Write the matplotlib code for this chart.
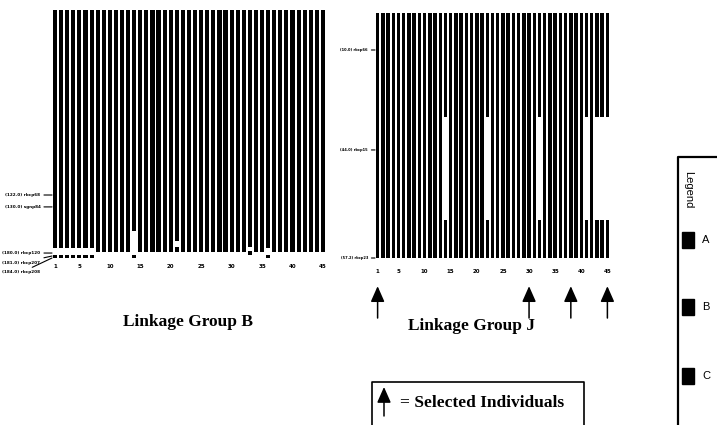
import matplotlib
matplotlib.use('Agg')
import matplotlib.pyplot as plt

# 45 individuals in each linkage group
n_ind = 45
tick_ind = [1, 5, 10, 15, 20, 25, 30, 35, 40, 45]
genotype_colors = {'A': 'black', 'B': 'black', 'C': 'black'}
legend_genotypes = ['A', 'B', 'C']
selected = [1, 30, 38, 45]

# positions run along the drawn chromosome: 0 = top, 100 = bottom
# Linkage group B
b_markers = ['(122.0) rbcp68', '(130.0) sgnp84', '(180.0) rbcp120',
             '(181.0) rbcp207', '(184.0) rbcp208']
b_marker_pos = [74.6, 79.4, 98.0, 99.2, 100.0]
b_default = [(0, 97.6, 'A')]
b_special = {
    1: [(0, 96.0, 'A'), (98.6, 100, 'B')],
    2: [(0, 96.0, 'A'), (98.6, 100, 'B')],
    3: [(0, 96.0, 'A'), (98.6, 100, 'B')],
    4: [(0, 96.0, 'A'), (98.6, 100, 'B')],
    5: [(0, 96.0, 'A'), (98.6, 100, 'B')],
    6: [(0, 96.0, 'A'), (98.6, 100, 'B')],
    7: [(0, 96.0, 'A'), (98.6, 100, 'B')],
    14: [(0, 89.0, 'A'), (98.6, 100, 'B')],
    21: [(0, 93.0, 'A'), (95.5, 97.6, 'B')],
    33: [(0, 95.5, 'A'), (97.0, 98.6, 'B')],
    36: [(0, 96.0, 'A'), (98.6, 100, 'B')],
}

# Linkage group J
j_markers = ['(10.0) rbcp66', '(44.0) rbcp15', '(57.2) rbcp23']
j_marker_pos = [15.1, 55.9, 100.0]
j_default = [(0, 41.6, 'A'), (41.6, 84.5, 'B'), (84.5, 100, 'A')]
j_gap = [(0, 42.5, 'A'), (84.5, 100, 'C')]
j_special = {14: j_gap, 22: j_gap, 32: j_gap, 41: j_gap,
             43: j_gap, 44: j_gap, 45: j_gap}


def draw_group(ax, default, special, markers, marker_pos, label_gap,
               label_x, label_size):
    for ind in range(1, n_ind + 1):
        for start, end, g in special.get(ind, default):
            ax.bar(ind, end - start, bottom=start, width=0.68,
                   color=genotype_colors[g], linewidth=0)
    ax.set_xlim(0.5, n_ind + 0.5)
    ax.set_ylim(100, 0)
    ax.set_xticks(tick_ind)
    ax.set_xticklabels([str(t) for t in tick_ind], fontsize=4, fontweight='bold')
    ax.tick_params(axis='x', length=0, pad=4)
    ax.set_yticks([])
    for s in ax.spines.values():
        s.set_visible(False)
    # marker names with leader lines, pushed down when crowded
    prev = -100
    for name, pos in zip(markers, marker_pos):
        ty = max(pos, prev + label_gap)
        prev = ty
        ax.annotate(name, xy=(0, pos), xycoords=ax.get_yaxis_transform(),
                    xytext=(label_x, ty), textcoords=('axes fraction', 'data'),
                    fontsize=label_size, fontweight='bold', ha='right', va='center',
                    arrowprops=dict(arrowstyle='-', lw=0.8, color='black',
                                    shrinkA=0.5, shrinkB=0),
                    annotation_clip=False)


fig = plt.figure(figsize=(7.17, 4.25), dpi=100)

ax_b = fig.add_axes([52 / 717, 1 - 258 / 425, 274 / 717, 248 / 425])
draw_group(ax_b, b_default, b_special, b_markers, b_marker_pos, 3.9,
           -0.042, 3.0)

ax_j = fig.add_axes([375 / 717, 1 - 258 / 425, 235 / 717, 245 / 425])
draw_group(ax_j, j_default, j_special, j_markers, j_marker_pos, 3.9,
           -0.03, 2.6)
ax_j.tick_params(axis='x', pad=8)

# arrows under the selected individuals
for ind in selected:
    ax_j.annotate('', xy=(ind, -0.115), xytext=(ind, -0.245),
                  xycoords=ax_j.get_xaxis_transform(),
                  arrowprops=dict(arrowstyle='-|>,head_length=0.95,head_width=0.42',
                                  mutation_scale=10, lw=1.1, color='black',
                                  shrinkA=0, shrinkB=0),
                  annotation_clip=False)

serif = 'Liberation Serif'
fig.text(188 / 717, 1 - 322 / 425, 'Linkage Group B', ha='center', va='center',
         fontsize=12.5, fontweight='bold', family=serif)
fig.text(471 / 717, 1 - 326 / 425, 'Linkage Group J', ha='center', va='center',
         fontsize=12.5, fontweight='bold', family=serif)

# key for the arrows
fig.add_artist(plt.Line2D([372 / 717, 372 / 717, 584 / 717, 584 / 717],
                          [-0.02, 1 - 382 / 425, 1 - 382 / 425, -0.02],
                          color='black', lw=1.2))
fig.add_artist(matplotlib.patches.FancyArrowPatch(
    (384 / 717, 1 - 416 / 425), (384 / 717, 1 - 387 / 425),
    transform=fig.transFigure,
    arrowstyle='-|>,head_length=0.95,head_width=0.42', mutation_scale=10,
    lw=1.1, color='black', shrinkA=0, shrinkB=0))
fig.text(400 / 717, 1 - 403 / 425, '= Selected Individuals', ha='left', va='center',
         fontsize=12.5, fontweight='bold', family=serif)

# genotype legend on the right edge
fig.add_artist(plt.Line2D([678 / 717, 678 / 717, 1.02],
                          [-0.02, 1 - 157 / 425, 1 - 157 / 425],
                          color='black', lw=1.6))
fig.text(688 / 717, 1 - 190 / 425, 'Legend', rotation=270, ha='center', va='center',
         fontsize=8, family='Liberation Sans')
for g, ypx in zip(legend_genotypes, [240, 307, 376]):
    fig.add_artist(matplotlib.patches.Rectangle(
        (682 / 717, 1 - (ypx + 8) / 425), 12 / 717, 16 / 425,
        transform=fig.transFigure, color=genotype_colors[g]))
    fig.text(706 / 717, 1 - ypx / 425, g, ha='center', va='center',
             fontsize=8, family='Liberation Sans')

fig.savefig('out.png', dpi=100)
